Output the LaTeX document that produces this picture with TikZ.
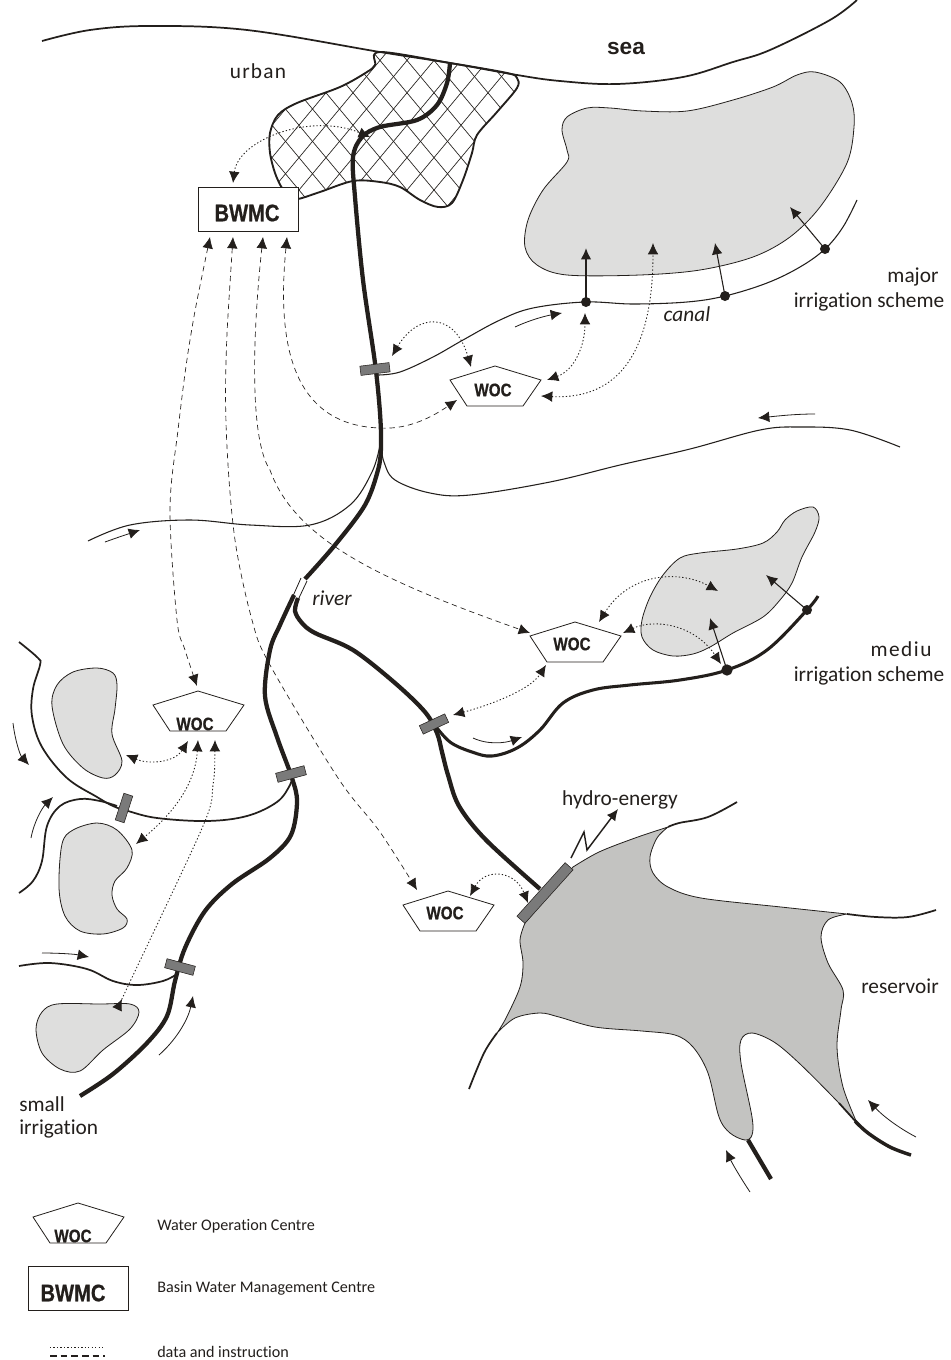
\documentclass[tikz,border=0pt]{standalone}
\usepackage{fontspec}
\setmainfont{Carlito}[Ligatures=NoCommon]
\newfontfamily\boldsans{Liberation Sans}
\newfontfamily\wocsans{Liberation Sans}[FakeStretch=0.84,BoldFeatures={FakeStretch=0.84,FakeBold=0.6}]
\usetikzlibrary{arrows.meta,calc}
\definecolor{ink}{HTML}{231F1C}
\definecolor{areagray}{HTML}{DEDEDD}
\definecolor{resgray}{HTML}{C3C3C1}
\definecolor{gategray}{HTML}{7A7A7A}
\tikzset{
  tip/.style={-{Latex[length=8.5pt,width=8pt]}},
  dbl/.style={{Latex[length=8.5pt,width=8pt]}-{Latex[length=8.5pt,width=8pt]}},
  river/.style={draw=ink,line width=3.2pt,line cap=butt},
  canal/.style={draw=ink,line width=2.3pt},
  lateral/.style={draw=ink,line width=1.3pt},
  thinline/.style={draw=ink,line width=0.8pt},
  area/.style={draw=ink,line width=0.6pt,fill=areagray},
  flow/.style={draw=ink,line width=0.6pt,tip},
  supply/.style={draw=ink,line width=0.8pt,tip},
  dots/.style={draw=ink,line width=0.65pt,dash pattern=on 1pt off 1.6pt,dbl},
  dashes/.style={draw=ink,line width=0.5pt,dash pattern=on 4pt off 3pt,dbl},
  gatebar/.style={draw=ink,line width=0.4pt,fill=gategray,minimum height=7pt,inner sep=0pt},
  offtake/.style={circle,fill=ink,inner sep=0pt,minimum size=7.5pt},
  lab/.style={font=\fontsize{16pt}{18pt}\selectfont,text=ink,inner sep=0pt},
  itlab/.style={font=\itshape\fontsize{16pt}{18pt}\selectfont,text=ink,inner sep=0pt},
  small/.style={font=\fontsize{12.1pt}{14pt}\selectfont,text=ink,inner sep=0pt,anchor=west},
  wocword/.style={font=\wocsans\bfseries\fontsize{13.6pt}{14pt}\selectfont,text=ink,inner sep=0pt},
  centrebox/.style={draw=ink,line width=0.6pt,fill=white,minimum width=75pt,minimum height=33pt,inner sep=0pt},
  bwmcword/.style={font=\wocsans\bfseries\fontsize{18pt}{19pt}\selectfont,text=ink,inner sep=0pt},
}
\newcommand{\wocshape}[5]{%
  \draw[draw=ink,line width=0.6pt,fill=white] (#2,#3) -- ++(46,14) -- ++(-18,26) -- ++(-56,0) -- ++(-17,-26) -- cycle;
  \node[wocword] (#1) at (#4,#5) {WOC};
}
\begin{document}
\begin{tikzpicture}[x=0.75pt,y=-0.75pt]
\useasboundingbox (0,0) rectangle (950,1360);
\fill[white] (0,0) rectangle (950,1360);

% coast
\draw[draw=ink,line width=1.3pt] plot[smooth,tension=.6] coordinates {(42,41) (90,30) (150,26) (247,30) (380,52) (450,63) (517,75) (560,81) (617,84) (683,77) (733,62) (770,50) (830,20) (857,0)};

% urban area
\def\urbanpath{plot[smooth cycle,tension=.55] coordinates {(380,52) (375,65) (367,72) (340,87) (297,103) (278,115) (270,133) (270,153) (275,173) (282,188) (290,197) (298,199) (320,192) (353,181) (380,182) (400,187) (420,200) (438,207) (452,203) (463,180) (472,153) (477,135) (497,112) (517,88) (517,78) (507,73) (450,63)}}
\begin{scope}
\clip \urbanpath;
\foreach \k in {-9,...,5} {
  \draw[draw=ink,line width=0.5pt] ({390+27*\k},40) -- ({390+27*\k+150},220);
}
\foreach \k in {-10,...,3} {
  \draw[draw=ink,line width=0.5pt] ({505+27*\k},40) -- ({505+27*\k-150},220);
}
\end{scope}
\draw[draw=ink,line width=1.4pt] \urbanpath;

% irrigation areas
\draw[area] plot[smooth cycle,tension=.55] coordinates {(815,72) (840,82) (852,103) (854,127) (847,163) (820,207) (790,237) (753,257) (700,270) (640,275) (567,275) (537,265) (525,247) (528,220) (543,190) (567,162) (567,150) (562,130) (567,117) (587,108) (610,108) (643,111) (687,111) (733,100) (773,87) (797,75)};
\draw[area] plot[smooth cycle,tension=.55] coordinates {(813,507) (819,517) (815,532) (802,557) (792,583) (780,600) (763,617) (733,633) (710,647) (693,654) (673,656) (653,650) (642,637) (642,620) (650,597) (663,575) (680,558) (700,553) (737,549) (763,543) (777,532) (785,520) (797,511)};
\draw[area] plot[smooth cycle,tension=.55] coordinates {(97,668) (113,673) (117,685) (115,709) (112,734) (122,761) (115,775) (103,778) (83,768) (63,744) (52,706) (57,685) (73,672)};
\draw[area] plot[smooth cycle,tension=.55] coordinates {(97,823) (117,830) (132,850) (127,868) (115,881) (112,895) (117,909) (127,919) (123,928) (103,934) (80,931) (65,916) (59,888) (62,844) (73,830)};
\draw[area] plot[smooth cycle,tension=.55] coordinates {(57,1004) (100,1004) (130,1004) (139,1012) (130,1029) (103,1050) (80,1071) (60,1069) (42,1053) (36,1029) (42,1012)};

% reservoir
\filldraw[draw=ink,line width=0.6pt,fill=resgray]
  plot[smooth,tension=.55] coordinates {(525,923) (520,940) (523,963) (520,987) (506,1018) (497,1033)}
  -- plot[smooth,tension=.55] coordinates {(497,1033) (515,1018) (540,1013) (559,1017) (595,1027) (642,1031) (675,1035) (693,1047) (708,1073) (719,1117) (730,1133) (745,1140) (752,1135) (752,1117) (741,1063) (741,1040) (752,1033) (774,1042) (799,1063) (836,1100) (857,1123)}
  -- plot[smooth,tension=.55] coordinates {(857,1123) (843,1087) (837,1047) (841,1010) (843,990) (828,963) (821,937) (828,920) (847,914)}
  -- plot[smooth,tension=.55] coordinates {(847,914) (781,907) (701,898) (668,887) (653,873) (650,857) (657,838) (668,827)}
  -- plot[smooth,tension=.55] coordinates {(668,827) (635,838) (599,852) (573,867)} -- cycle;
\draw[lateral] plot[smooth,tension=.6] coordinates {(668,827) (679,823) (708,817) (737,802)};
\draw[lateral] plot[smooth,tension=.6] coordinates {(847,914) (876,917) (908,917) (936,910)};
\draw[lateral] plot[smooth,tension=.6] coordinates {(497,1033) (484,1053) (469,1089)};
\draw[river] (748,1140) -- (771,1179);
\draw[lateral] (839,1103) -- (857,1123);
\draw[canal,line width=2.6pt] plot[smooth,tension=.6] coordinates {(855,1121) (868,1133) (890,1147) (911,1155)};

% main river and branches
\draw[river] plot[smooth,tension=.55] coordinates {(450,63) (447,83) (437,105) (417,120) (380,127) (362,137) (353,157) (355,197) (363,280) (375,363) (380,413) (381,447) (378,470) (365,505) (335,545) (305,579)};
\draw[draw=ink,line width=0.6pt] (301,578) -- (293,596);
\draw[draw=ink,line width=0.6pt] (307,581) -- (298,600);
\draw[river] plot[smooth,tension=.55] coordinates {(294,595) (280,625) (270,650) (265,696) (277,737) (292,778) (297,802) (291,835) (270,858) (232,884) (205,911) (185,948) (175,981) (167,1016) (147,1043) (113,1074) (80,1096)};
\draw[river] plot[smooth,tension=.55] coordinates {(298,598) (295,611) (302,623) (315,633) (353,650) (395,683) (425,712) (437,733) (442,752) (448,775) (459,806) (486,840) (540,889)};

% canals and laterals
\draw[thinline] plot[smooth,tension=.6] coordinates {(378,375) (400,372) (433,357) (463,340) (500,320) (533,308) (585,302) (633,304) (687,302) (725,296) (767,283) (800,267) (825,249) (843,227) (857,200)};
\draw[canal] plot[smooth,tension=.6] coordinates {(434,724) (450,742) (472,752) (492,756) (517,748) (540,730) (563,703) (593,690) (630,685) (680,680) (727,670) (767,650) (807,610) (818,596)};
\draw[thinline] plot[smooth,tension=.6] coordinates {(381,445) (384,462) (395,480) (430,493) (470,495) (550,482) (620,465) (690,449) (760,430) (800,427) (850,430) (900,447)};
\draw[thinline] plot[smooth,tension=.6] coordinates {(88,541) (130,525) (190,520) (250,525) (310,525) (350,505) (372,472) (380,445)};
\draw[lateral] plot[smooth,tension=.6] coordinates {(19,642) (38,658) (40,665) (33,689) (32,716) (42,747) (67,778) (97,797) (113,806) (128,811) (157,818) (207,821) (247,816) (277,802) (290,785) (292,776)};
\draw[lateral] plot[smooth,tension=.6] coordinates {(19,893) (33,881) (42,861) (47,826) (60,806) (80,799) (100,801) (117,806)};
\draw[lateral] plot[smooth,tension=.6] coordinates {(19,966) (50,963) (87,969) (113,981) (137,985) (163,981) (177,974)};

% gates
\node[gatebar,minimum width=22pt,rotate=7] (gate1) at (375,369) {};
\node[gatebar,minimum width=22pt,rotate=15] (gate2) at (291,774) {};
\node[gatebar,minimum width=21pt,rotate=72] (gate3) at (124,808) {};
\node[gatebar,minimum width=22pt,rotate=-15] (gate4) at (180,967) {};
\node[gatebar,minimum width=21pt,rotate=25] (gate5) at (434,724) {};
\node[gatebar,minimum width=54pt,minimum height=8pt,rotate=48] (dam) at (545,893) {};

% offtakes and supply arrows
\node[offtake] (o1) at (586,302) {};
\node[offtake] (o2) at (725,296) {};
\node[offtake] (o3) at (825,249) {};
\node[offtake,minimum size=8.5pt] (o4) at (727,670) {};
\node[offtake] (o5) at (807,610) {};
\coordinate (s1) at (586,248);
\coordinate (s2) at (715,243);
\coordinate (s3) at (790,207);
\coordinate (s4) at (710,618);
\coordinate (s5) at (766,575);
\draw[supply,line width=1.5pt] (o1.center) -- (s1);
\draw[supply] (o2.center) -- (s2);
\draw[supply] (o3.center) -- (s3);
\draw[supply] (o4.center) -- (s4);
\draw[supply] (o5.center) -- (s5);

% flow arrows
\draw[flow] (515,327) .. controls (530,320) and (545,316) .. (562,313);
\draw[flow] (815,414) .. controls (795,414) and (778,416) .. (758,418);
\draw[flow] (105,542) .. controls (116,538) and (128,534) .. (140,530);
\draw[flow] (473,738) .. controls (488,745) and (505,743) .. (522,737);
\draw[flow] (13,723) .. controls (15,740) and (20,755) .. (29,765);
\draw[flow] (31,838) .. controls (34,822) and (42,808) .. (53,797);
\draw[flow] (42,953) .. controls (58,953) and (74,954) .. (89,957);
\draw[flow] (159,1055) .. controls (176,1040) and (188,1020) .. (193,996);
\draw[flow] (916,1137) .. controls (897,1127) and (882,1115) .. (868,1100);
\draw[flow] (750,1192) .. controls (742,1180) and (733,1165) .. (726,1150);

% hydro-energy bolt
\draw[draw=ink,line width=1.1pt,tip] (571,858) -- (584,832) -- (587,850) -- (618,809);

% centres
\node[centrebox] (bwmc) at (248,209.5) {};
\node[bwmcword] (bwmcw) at (247,213) {BWMC};
\wocshape{woc1}{495}{366}{493}{390}
\wocshape{woc2}{575}{622}{572}{644}
\wocshape{woc3}{198}{691}{195}{724}
\wocshape{woc4}{448}{891}{445}{913}

% dotted links
\draw[dots] (233,183) .. controls (238,140) and (310,112) .. (370,137);
\draw[dots] (392,356) .. controls (418,312) and (455,312) .. (471,367);
\draw[dots] (547,380) .. controls (575,370) and (585,345) .. (585,313);
\draw[dots] (541,396) .. controls (620,400) and (653,350) .. (653,243);
\draw[dots] (453,715) .. controls (490,705) and (530,690) .. (546,665);
\draw[dots] (599,622) .. controls (630,572) and (680,570) .. (718,591);
\draw[dots] (623,633) .. controls (655,618) and (695,625) .. (721,664);
\draw[dots] (126,755) .. controls (150,765) and (175,762) .. (188,741);
\draw[dots] (198,740) .. controls (195,790) and (165,820) .. (136,844);
\draw[dots] plot[smooth,tension=.5] coordinates {(215,740) (213,785) (203,826) (128,986) (122,999)};
\draw[dots] (470,896) .. controls (485,868) and (515,870) .. (528,903);

% dashed links
\draw[dashes] (287,237) .. controls (278,330) and (285,425) .. (380,428) .. controls (410,430) and (435,415) .. (457,400);
\draw[dashes] (263,237) .. controls (252,340) and (250,440) .. (270,470) .. controls (295,540) and (380,580) .. (530,633);
\draw[dashes] plot[smooth,tension=.55] coordinates {(233,237) (226,363) (227,447) (235,540) (252,620) (270,665) (338,778) (380,832) (417,890)};
\draw[dashes] plot[smooth,tension=.55] coordinates {(210,237) (190,340) (178,430) (170,510) (177,620) (185,650) (197,686)};

% labels
\node[font=\boldsans\bfseries\fontsize{17pt}{18pt}\selectfont,text=ink,inner sep=0pt] (sea) at (626,49) {sea};
\node[lab] (urban) at (258,71) {\addfontfeature{LetterSpace=6}urban};
\node[lab] (major) at (913,277) {major};
\node[lab] (irr1) at (869,302) {irrigation scheme};
\node[itlab] (canal) at (687,314) {canal};
\node[itlab] (riv) at (332,598) {river};
\node[lab] (medi) at (901,649) {\addfontfeature{LetterSpace=7}mediu};
\node[lab] (irr2) at (869,676) {irrigation scheme};
\node[lab] (hydro) at (620,800) {hydro-energy};
\node[lab] (res) at (900,986) {reservoir};
\node[lab,anchor=west] (sm) at (19,1104) {small};
\node[lab,anchor=west] (irr3) at (19,1129) {irrigation};

% legend
\wocshape{wocL}{78}{1203}{73}{1236}
\node[centrebox] (bwmcL) at (78,1288.5) {};
\node[bwmcword] (bwmcLw) at (73,1293) {BWMC};
\node[small] (t1) at (157,1226) {Water Operation Centre};
\node[small] (t2) at (157,1288) {Basin Water Management Centre};
\node[small] (t3) at (157,1352) {data and instruction};
\coordinate (k1) at (50,1347);
\coordinate (k2) at (105,1347);
\coordinate (k3) at (50,1356);
\coordinate (k4) at (105,1356);
\draw[draw=ink,line width=0.65pt,dash pattern=on 1pt off 1.6pt] (k1) -- (k2);
\draw[draw=ink,line width=0.9pt,dash pattern=on 5pt off 3pt] (k3) -- (k4);
\end{tikzpicture}
\end{document}
